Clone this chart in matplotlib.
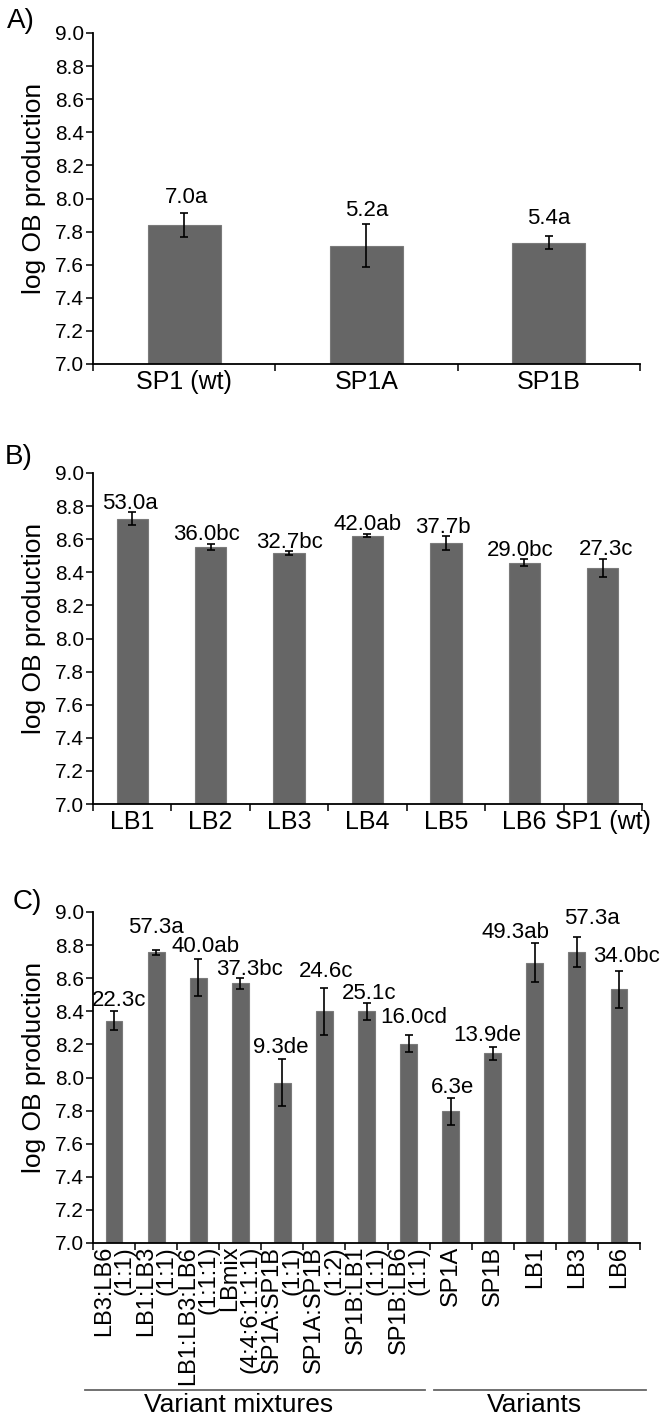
import numpy as np
import matplotlib
matplotlib.use('Agg')
import matplotlib.pyplot as plt
from matplotlib.lines import Line2D
import matplotlib.transforms as mtransforms

plt.rcParams['font.family'] = ['Liberation Sans', 'DejaVu Sans']

# ---- data ----
a_names = ['SP1 (wt)', 'SP1A', 'SP1B']
a_mean = [7.84, 7.715, 7.732]
a_err = [0.073, 0.13, 0.04]
a_text = ['7.0a', '5.2a', '5.4a']

b_names = ['LB1', 'LB2', 'LB3', 'LB4', 'LB5', 'LB6', 'SP1 (wt)']
b_mean = [8.725, 8.552, 8.515, 8.622, 8.575, 8.458, 8.428]
b_err = [0.037, 0.02, 0.012, 0.011, 0.042, 0.02, 0.054]
b_text = ['53.0a', '36.0bc', '32.7bc', '42.0ab', '37.7b', '29.0bc', '27.3c']

c_names = ['LB3:LB6\n(1:1)', 'LB1:LB3\n(1:1)', 'LB1:LB3:LB6\n(1:1:1)',
           'LBmix\n(4:4:6:1:1:1)', 'SP1A:SP1B\n(1:1)', 'SP1A:SP1B\n(1:2)',
           'SP1B:LB1\n(1:1)', 'SP1B:LB6\n(1:1)',
           'SP1A', 'SP1B', 'LB1', 'LB3', 'LB6']
c_mean = [8.343, 8.756, 8.604, 8.568, 7.968, 8.40, 8.40, 8.204,
          7.796, 8.147, 8.693, 8.758, 8.532]
c_err = [0.058, 0.016, 0.114, 0.031, 0.142, 0.141, 0.052, 0.052,
         0.081, 0.04, 0.118, 0.088, 0.114]
c_text = ['22.3c', '57.3a', '40.0ab', '37.3bc', '9.3de', '24.6c', '25.1c',
          '16.0cd', '6.3e', '13.9de', '49.3ab', '57.3a', '34.0bc']
c_groups = ['Variant mixtures', 'Variants']

# label nudges in pixels (dx, dy above error bar top)
c_dx = [5, 0, 7, 9, -2, 2, 3, 5, 2, -5, -19, 15, 8]
c_dy = [11, 22, 12, 9, 12, 16, 9, 18, 10, 11, 11, 19, 14]

W, H = 663, 1419
PX = 72.0 / 100  # points per pixel
bar_col = '#666666'

fig = plt.figure(figsize=(W / 100, H / 100), dpi=100)


def make_ax(top, bottom, left=93, right=640):
    return fig.add_axes([left / W, 1 - bottom / H, (right - left) / W, (bottom - top) / H])


def panel(ax, names, mean, err, text, dx, dy, xfs, rot=0):
    x = np.arange(len(names))
    ax.bar(x, np.array(mean) - 7.0, bottom=7.0, width=0.4, color=bar_col,
           edgecolor='#7a7a7a', linewidth=0.8, zorder=2)
    ax.errorbar(x, mean, yerr=err, fmt='none', ecolor='black', elinewidth=1.2,
                capsize=3, capthick=1.2, zorder=3)
    for i in range(len(names)):
        ax.annotate(text[i], (x[i], mean[i] + err[i]),
                    xytext=(dx[i] * PX, dy[i] * PX), textcoords='offset points',
                    ha='center', va='center', fontsize=16)
    ax.set_xlim(-0.5, len(names) - 0.5)
    ax.set_ylim(7.0, 9.0)
    ax.set_yticks(np.arange(7.0, 9.01, 0.2))
    ax.set_yticklabels(['%.1f' % v for v in np.arange(7.0, 9.01, 0.2)], fontsize=15)
    ax.set_xticks(x)
    ax.set_xticks(np.arange(-0.5, len(names), 1.0), minor=True)
    ax.tick_params(axis='x', which='major', length=0, pad=4 if rot == 0 else 2)
    ax.tick_params(axis='x', which='minor', length=5, width=1.1, direction='out')
    ax.tick_params(axis='y', length=5, width=1.1, direction='out', pad=1.5)
    if rot == 0:
        ax.set_xticklabels(names, fontsize=xfs)
    else:
        ax.set_xticklabels(names, fontsize=xfs, rotation=90, ha='center', va='top',
                           multialignment='right', linespacing=0.9)
    for s in ['top', 'right']:
        ax.spines[s].set_visible(False)
    for s in ['left', 'bottom']:
        ax.spines[s].set_linewidth(1.3)


def ylab(top, bottom):
    fig.text(34 / W, 1 - ((top + bottom) / 2 - 10) / H, 'log OB production',
             rotation=90, ha='center', va='center', fontsize=19)


# A)
axA = make_ax(33, 364)
panel(axA, a_names, a_mean, a_err, a_text, [2, 0, 0], [15, 14, 18], 18)
ylab(33, 364)
fig.text(7 / W, 1 - 21 / H, 'A)', fontsize=20, ha='left', va='center')

# B)
axB = make_ax(473, 804, right=642)
panel(axB, b_names, b_mean, b_err, b_text, [-2, -4, 0, 0, -3, -4, 3], [9] * 7, 18)
ylab(473, 804)
fig.text(5 / W, 1 - 457 / H, 'B)', fontsize=20, ha='left', va='center')

# C)
axC = make_ax(912, 1243)
panel(axC, c_names, c_mean, c_err, c_text, c_dx, c_dy, 17, rot=90)
ylab(912, 1243)
fig.text(13 / W, 1 - 902 / H, 'C)', fontsize=20, ha='left', va='center')

# group brackets under panel C
trans = mtransforms.blended_transform_factory(axC.transData, fig.transFigure)
yl = 1 - 1390 / H
axC.add_artist(Line2D([-0.7, 7.4], [yl, yl], transform=trans, color='#666666',
                      lw=1.3, clip_on=False))
axC.add_artist(Line2D([7.6, 12.65], [yl, yl], transform=trans, color='#666666',
                      lw=1.3, clip_on=False))
axC.text(2.95, 1 - 1405 / H, c_groups[0], transform=trans, ha='center', va='center',
         fontsize=19)
axC.text(10.0, 1 - 1405 / H, c_groups[1], transform=trans, ha='center', va='center',
         fontsize=19)

fig.savefig('out.png', dpi=100)
